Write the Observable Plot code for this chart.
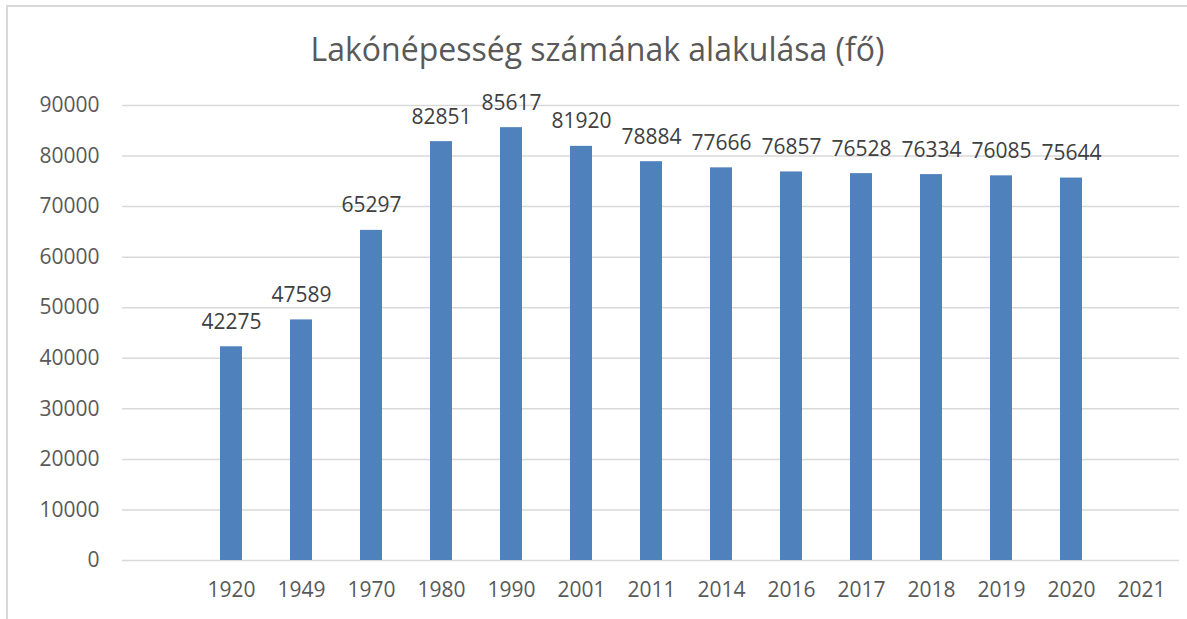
<!DOCTYPE html>
<html>
<head>
<meta charset="utf-8">
<script src="https://cdn.jsdelivr.net/npm/d3@7"></script>
<script src="https://cdn.jsdelivr.net/npm/@observablehq/plot@0.6"></script>
<style>
  html, body { margin: 0; padding: 0; background: #fff; }
  #wrap { position: relative; width: 1187px; height: 619px; overflow: hidden; font-family: "Open Sans", sans-serif; }
  #frame { position: absolute; left: 6px; top: 5px; width: 1400px; height: 800px; border: 2px solid #d9d9d9; box-sizing: border-box; }
  #title { position: relative; height: 90px; line-height: 98px; text-align: center; font-size: 32px; color: #595959; padding-left: 8px; box-sizing: border-box; }
  #chart { position: relative; }
</style>
</head>
<body>
<div id="wrap">
  <div id="frame"></div>
  <div id="title">Lakónépesség számának alakulása (fő)</div>
  <div id="chart"></div>
</div>
<script>
const categories = ["", "1920", "1949", "1970", "1980", "1990", "2001", "2011", "2014", "2016", "2017", "2018", "2019", "2020", "2021"];
const values = [null, 42275, 47589, 65297, 82851, 85617, 81920, 78884, 77666, 76857, 76528, 76334, 76085, 75644, null];
const yTicks = [0, 10000, 20000, 30000, 40000, 50000, 60000, 70000, 80000, 90000];

const data = categories.map((c, i) => ({ year: c, value: values[i] })).filter(d => d.value != null);

const chart = Plot.plot({
  width: 1187,
  height: 529,
  marginTop: 15,
  marginBottom: 59,
  marginLeft: 122,
  marginRight: 8,
  style: { fontFamily: "'Open Sans', sans-serif", fontSize: "21px", color: "#595959", background: "transparent", overflow: "visible" },
  x: { domain: categories, paddingInner: 0.69, paddingOuter: 0.345, label: null },
  y: { domain: [0, 90000], label: null },
  marks: [
    Plot.ruleY(yTicks, { stroke: "#d9d9d9", strokeWidth: 1.5 }),
    Plot.barY(data, { x: "year", y: "value", fill: "#4f81bd" }),
    Plot.text(data, { x: "year", y: "value", text: d => String(d.value), dy: -18, lineAnchor: "bottom", fill: "#404040", fontSize: 21 }),
    Plot.axisY({ ticks: yTicks, tickSize: 0, tickPadding: 23, tickFormat: d => String(d), label: null, fill: "#595959", fontSize: 21 }),
    Plot.axisX({ tickSize: 0, tickPadding: 22, label: null, fill: "#595959", fontSize: 21, tickFormat: d => d })
  ]
});
document.getElementById("chart").appendChild(chart);
</script>
</body>
</html>
